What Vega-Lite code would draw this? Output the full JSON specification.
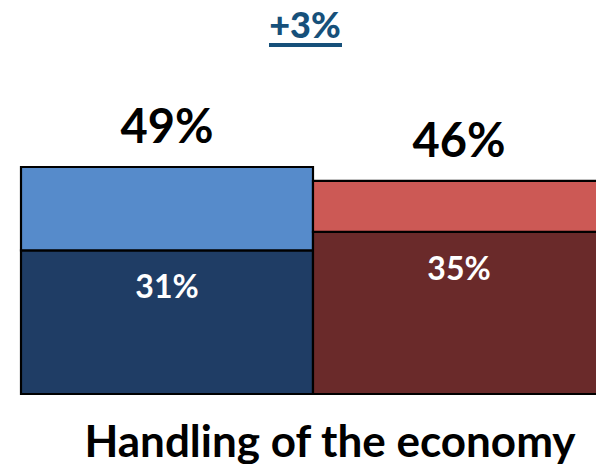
{
  "$schema": "https://vega.github.io/schema/vega-lite/v6.json",
  "width": 596,
  "height": 464,
  "autosize": "none",
  "padding": 0,
  "background": "white",
  "config": {"view": {"stroke": null}, "axis": {"disable": true}, "text": {"font": "Lato", "fontWeight": "bold"}},
  "data": {"values": [
    {"party": "Left", "segment": "Left core", "level": 1, "pct": 0.31},
    {"party": "Left", "segment": "Left lean", "level": 2, "pct": 0.18},
    {"party": "Right", "segment": "Right core", "level": 1, "pct": 0.35},
    {"party": "Right", "segment": "Right lean", "level": 2, "pct": 0.11}
  ]},
  "layer": [
    {
      "mark": {"type": "bar", "stroke": "#000000", "strokeWidth": 2.2, "strokeJoin": "miter"},
      "encoding": {
        "x": {"field": "party", "type": "nominal", "scale": {"range": [21, 605], "paddingInner": 0, "paddingOuter": 0}, "axis": null},
        "y": {"field": "pct", "type": "quantitative", "aggregate": "sum", "stack": "zero", "scale": {"domain": [-0.1511, 0.8504], "nice": false, "zero": false}, "axis": null},
        "color": {"field": "segment", "type": "nominal", "legend": null,
          "scale": {"domain": ["Left core", "Left lean", "Right core", "Right lean"], "range": ["#1F3D65", "#568BCB", "#6A2A2A", "#CC5955"]}},
        "order": {"field": "level", "type": "quantitative", "sort": "ascending"}
      }
    },
    {
      "transform": [{"filter": "datum.level == 1"}],
      "mark": {"type": "text", "baseline": "alphabetic", "align": "center", "dy": 48, "fontSize": 32, "color": "#FFFFFF"},
      "encoding": {
        "x": {"field": "party", "type": "nominal"},
        "y": {"field": "pct", "type": "quantitative"},
        "text": {"field": "pct", "type": "quantitative", "format": ".0%"}
      }
    },
    {
      "transform": [{"aggregate": [{"op": "sum", "field": "pct", "as": "total"}], "groupby": ["party"]}],
      "mark": {"type": "text", "baseline": "alphabetic", "align": "center", "dy": -24, "fontSize": 47, "color": "#000000"},
      "encoding": {
        "x": {"field": "party", "type": "nominal"},
        "y": {"field": "total", "type": "quantitative"},
        "text": {"field": "total", "type": "quantitative", "format": ".0%"}
      }
    },
    {
      "data": {"values": [{"note": "+3%"}]},
      "mark": {"type": "text", "baseline": "alphabetic", "align": "center", "dx": -8, "fontSize": 36, "fontWeight": 900, "color": "#16507A"},
      "encoding": {
        "x": {"datum": "Left", "type": "nominal", "bandPosition": 1},
        "y": {"datum": 0.768, "type": "quantitative"},
        "text": {"field": "note", "type": "nominal"}
      }
    },
    {
      "data": {"values": [{"note": "+3%"}]},
      "mark": {"type": "rule", "color": "#16507A", "strokeWidth": 4, "xOffset": -44, "x2Offset": 29},
      "encoding": {
        "x": {"datum": "Left", "type": "nominal", "bandPosition": 1},
        "x2": {"datum": "Left", "bandPosition": 1},
        "y": {"datum": 0.7533, "type": "quantitative"}
      }
    },
    {
      "data": {"values": [{"title": "Handling of the economy"}]},
      "mark": {"type": "text", "baseline": "alphabetic", "align": "center", "dx": 17, "fontSize": 44, "color": "#000000"},
      "encoding": {
        "x": {"datum": "Right", "type": "nominal", "bandPosition": 0},
        "y": {"datum": -0.136, "type": "quantitative"},
        "text": {"field": "title", "type": "nominal"}
      }
    }
  ]
}
